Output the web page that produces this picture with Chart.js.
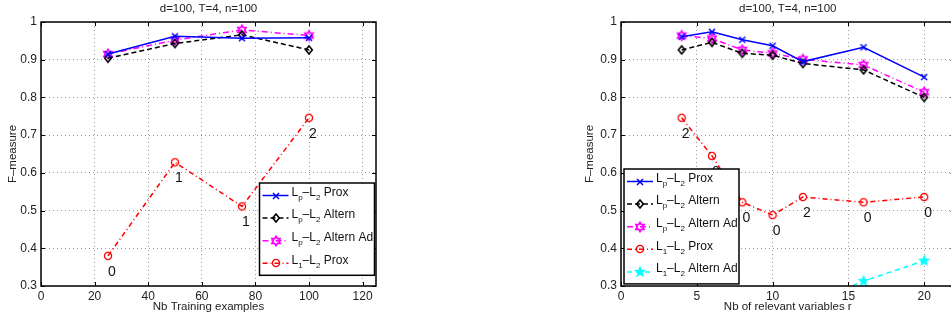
<!DOCTYPE html>
<html>
<head>
<meta charset="utf-8">
<script src="https://cdn.jsdelivr.net/npm/chart.js@4.4.0/dist/chart.umd.min.js"></script>
<style>
html, body { margin:0; padding:0; background:#fff; width:951px; height:320px; overflow:hidden; }
#left { position:absolute; left:0; top:0; }
#right { position:absolute; left:540px; top:0; }
</style>
</head>
<body>
<canvas id="left" width="400" height="320"></canvas>
<canvas id="right" width="420" height="320"></canvas>
<script>
// ---- data: left plot (training examples) ----
const leftX = [25, 50, 75, 100];
const leftProx = [0.915, 0.962, 0.957, 0.958];
const leftAltern = [0.904, 0.943, 0.966, 0.926];
const leftAlternAd = [0.915, 0.952, 0.979, 0.964];
const leftL1Prox = [0.380, 0.628, 0.511, 0.746];
const leftCounts = ['0', '1', '1', '2'];

// ---- data: right plot (relevant variables) ----
const rightX = [4, 6, 8, 10, 12, 16, 20];
const rightProx = [0.961, 0.974, 0.953, 0.937, 0.895, 0.933, 0.854];
const rightAltern = [0.926, 0.946, 0.917, 0.912, 0.890, 0.873, 0.800];
const rightAlternAd = [0.964, 0.956, 0.926, 0.917, 0.901, 0.886, 0.814];
const rightL1Prox = [0.746, 0.645, 0.522, 0.488, 0.536, 0.522, 0.536];
const rightCounts = ['2', '0', '0', '0', '2', '0', '0'];
const rightL1AlternAdX = [12, 16, 20];
const rightL1AlternAd = [0.245, 0.313, 0.367];

const titleText = 'd=100, T=4, n=100';
const yTitle = 'F\u2013measure';
const FONT = '"Liberation Sans", Arial, sans-serif';

// marker images (matlab style)
function marker(size, draw) {
  const c = document.createElement('canvas');
  c.width = c.height = size;
  const g = c.getContext('2d');
  g.translate(size / 2, size / 2);
  draw(g);
  return c;
}
function star(g, n, r1, r2) {
  g.beginPath();
  for (let i = 0; i < n * 2; i++) {
    const r = i % 2 ? r2 : r1;
    const a = -Math.PI / 2 + i * Math.PI / n;
    g.lineTo(r * Math.cos(a), r * Math.sin(a));
  }
  g.closePath();
}
const markX = marker(12, g => {
  g.strokeStyle = '#0000ff'; g.lineWidth = 1.5;
  g.beginPath(); g.moveTo(-3, -3); g.lineTo(3, 3); g.moveTo(3, -3); g.lineTo(-3, 3); g.stroke();
});
const markDiamond = marker(12, g => {
  g.strokeStyle = '#000'; g.lineWidth = 1.6;
  g.beginPath(); g.moveTo(0, -4); g.lineTo(3.3, 0); g.lineTo(0, 4); g.lineTo(-3.3, 0); g.closePath(); g.stroke();
});
const markHex = marker(14, g => {
  g.strokeStyle = '#ff00ff'; g.lineWidth = 1.8;
  star(g, 6, 4.6, 2.7); g.stroke();
});
const markCircle = marker(12, g => {
  g.strokeStyle = '#ff0000'; g.lineWidth = 1.3;
  g.beginPath(); g.arc(0, 0, 3.6, 0, Math.PI * 2); g.stroke();
});
const markPent = marker(16, g => {
  g.fillStyle = '#00ffff';
  star(g, 5, 6.5, 2.7); g.fill();
});

function series(xs, ys) {
  return xs.map((x, i) => ({ x: x, y: ys[i] }));
}
function ds(label, xs, ys, color, dash, pt) {
  return {
    label: label, data: series(xs, ys),
    borderColor: color, backgroundColor: color, borderWidth: 1.5, borderDash: dash,
    pointStyle: pt, pointRadius: 4, tension: 0, fill: false
  };
}

// draws "L_p–L_2 Prox" with subscripts
function subText(ctx, text, x, y) {
  ctx.textAlign = 'left';
  ctx.textBaseline = 'middle';
  let cx = x;
  for (let i = 0; i < text.length; i++) {
    if (text[i] === '_') {
      i++;
      ctx.font = '8px ' + FONT;
      ctx.fillText(text[i], cx, y + 5);
      cx += ctx.measureText(text[i]).width;
    } else {
      ctx.font = '12px ' + FONT;
      ctx.fillText(text[i], cx, y);
      cx += ctx.measureText(text[i]).width;
    }
  }
}

const matlabPlugin = {
  id: 'matlab',
  afterDatasetsDraw(chart, args, o) {
    const ctx = chart.ctx, a = chart.chartArea;
    const xs = chart.scales.x, ys = chart.scales.y;
    ctx.save();
    // frame
    ctx.strokeStyle = '#000'; ctx.lineWidth = 1.5;
    ctx.strokeRect(Math.round(a.left), Math.round(a.top), Math.round(a.right - a.left), Math.round(a.bottom - a.top));
    // inward ticks
    ctx.lineWidth = 1;
    ctx.beginPath();
    xs.ticks.forEach(t => {
      const px = Math.round(xs.getPixelForValue(t.value)) + 0.5;
      ctx.moveTo(px, a.bottom); ctx.lineTo(px, a.bottom - 4);
      ctx.moveTo(px, a.top); ctx.lineTo(px, a.top + 4);
    });
    ys.ticks.forEach(t => {
      const py = Math.round(ys.getPixelForValue(t.value)) + 0.5;
      ctx.moveTo(a.left, py); ctx.lineTo(a.left + 4, py);
      ctx.moveTo(a.right, py); ctx.lineTo(a.right - 4, py);
    });
    ctx.stroke();
    // titles
    ctx.fillStyle = '#222';
    ctx.textAlign = 'center'; ctx.textBaseline = 'middle';
    const cx = (a.left + a.right) / 2;
    ctx.font = '11.5px ' + FONT;
    ctx.fillText(titleText, cx, 9);
    ctx.font = '11.5px ' + FONT;
    ctx.fillText(o.xTitle, cx, 306.5);
    ctx.save();
    ctx.translate(o.yTitleX, (a.top + a.bottom) / 2);
    ctx.rotate(-Math.PI / 2);
    ctx.fillText(yTitle, 0, 0);
    ctx.restore();
    // counts under the L1-L2 Prox points
    const meta = chart.getDatasetMeta(o.countsIndex);
    ctx.fillStyle = '#111';
    ctx.font = '14px ' + FONT;
    meta.data.forEach((p, i) => {
      ctx.fillText(o.counts[i], p.x + 4, p.y + 16);
    });
    // legend box
    const L = o.legend;
    const n = chart.data.datasets.length;
    const h = 12.5 + (n - 1) * 22.6 + 12;
    ctx.fillStyle = '#fff';
    ctx.fillRect(L.x, L.y, L.w, h);
    ctx.lineWidth = 1.5; ctx.strokeStyle = '#000';
    ctx.strokeRect(L.x, L.y, L.w, h);
    chart.data.datasets.forEach((d, i) => {
      const ry = L.y + 12.5 + i * 22.6;
      ctx.save();
      ctx.strokeStyle = d.borderColor; ctx.lineWidth = d.borderWidth;
      ctx.setLineDash(d.borderDash);
      ctx.beginPath(); ctx.moveTo(L.x + 3, ry); ctx.lineTo(L.x + 29, ry); ctx.stroke();
      ctx.restore();
      const m = d.pointStyle;
      ctx.drawImage(m, Math.round(L.x + 16 - m.width / 2), Math.round(ry - m.height / 2));
      ctx.fillStyle = '#111';
      subText(ctx, d.label, L.x + 32, ry - 3);
    });
    ctx.restore();
  }
};

function makeChart(id, datasets, xMax, xStep, yWidth, padRight, opts) {
  return new Chart(document.getElementById(id), {
    type: 'line',
    data: { datasets: datasets },
    plugins: [matlabPlugin],
    options: {
      responsive: false,
      animation: false,
      devicePixelRatio: 1,
      layout: { padding: { top: 22, right: padRight, left: 0, bottom: 0 } },
      plugins: { legend: { display: false }, tooltip: { enabled: false }, matlab: opts },
      scales: {
        x: {
          type: 'linear', min: 0, max: xMax,
          afterBuildTicks: s => { s.ticks = s.ticks.filter(t => t.value % xStep === 0); },
          afterFit: s => { s.height = 34; },
          ticks: { stepSize: xStep, includeBounds: false, autoSkip: false, maxRotation: 0, padding: 3, color: '#222', font: { family: FONT, size: 12 } },
          grid: { color: '#9a9a9a', lineWidth: 1, drawTicks: false },
          border: { display: false, dash: [1, 3] }
        },
        y: {
          type: 'linear', min: 0.3, max: 1,
          afterFit: s => { s.width = yWidth; },
          ticks: {
            stepSize: 0.1, padding: 4, color: '#222', font: { family: FONT, size: 12 },
            callback: v => (Math.abs(v - 1) < 1e-9 ? '1' : v.toFixed(1))
          },
          grid: { color: '#9a9a9a', lineWidth: 1, drawTicks: false },
          border: { display: false, dash: [1, 3] }
        }
      }
    }
  });
}

makeChart('left', [
  ds('L_p\u2013L_2 Prox', leftX, leftProx, '#0000ff', [], markX),
  ds('L_p\u2013L_2 Altern', leftX, leftAltern, '#000000', [5, 3], markDiamond),
  ds('L_p\u2013L_2 Altern Ad', leftX, leftAlternAd, '#ff00ff', [6, 3, 1, 3], markHex),
  ds('L_1\u2013L_2 Prox', leftX, leftL1Prox, '#ff0000', [5, 3, 1, 3], markCircle)
], 125, 20, 41, 24, {
  xTitle: 'Nb Training examples', yTitleX: 13,
  counts: leftCounts, countsIndex: 3,
  legend: { x: 259.5, y: 183, w: 115 }
});

makeChart('right', [
  ds('L_p\u2013L_2 Prox', rightX, rightProx, '#0000ff', [], markX),
  ds('L_p\u2013L_2 Altern', rightX, rightAltern, '#000000', [5, 3], markDiamond),
  ds('L_p\u2013L_2 Altern Ad', rightX, rightAlternAd, '#ff00ff', [6, 3, 1, 3], markHex),
  ds('L_1\u2013L_2 Prox', rightX, rightL1Prox, '#ff0000', [5, 3, 1, 3], markCircle),
  ds('L_1\u2013L_2 Altern Ad', rightL1AlternAdX, rightL1AlternAd, '#00ffff', [5, 4], markPent)
], 22, 5, 81, 4, {
  xTitle: 'Nb of relevant variables r', yTitleX: 50,
  counts: rightCounts, countsIndex: 3,
  legend: { x: 84, y: 169, w: 115 }
});
</script>
</body>
</html>
